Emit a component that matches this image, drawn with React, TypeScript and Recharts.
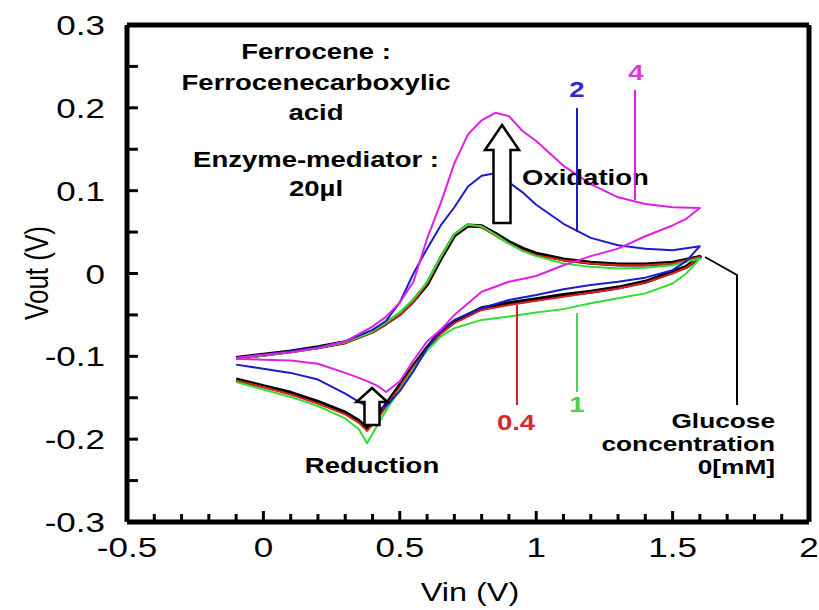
import React from 'react';
import { LineChart, Line, XAxis, YAxis, ReferenceLine } from 'recharts';

// scan potentials (forward sweep up, reverse sweep back down)
const vinForward = [-0.1, 0, 0.1, 0.2, 0.3, 0.4, 0.45, 0.5, 0.55, 0.6, 0.65, 0.7, 0.75, 0.8, 0.85, 0.9, 0.95, 1.0, 1.1, 1.2, 1.3, 1.4, 1.5, 1.6];
const vinReverse = [1.6, 1.55, 1.5, 1.4, 1.3, 1.2, 1.1, 1.0, 0.9, 0.8, 0.7, 0.65, 0.6, 0.55, 0.5, 0.45, 0.42, 0.38, 0.35, 0.3, 0.2, 0.1, 0, -0.1];

// glucose 0 mM
const vout0Fwd = [-0.102, -0.098, -0.094, -0.089, -0.083, -0.07, -0.06, -0.049, -0.033, -0.013, 0.018, 0.046, 0.058, 0.057, 0.048, 0.038, 0.03, 0.024, 0.017, 0.013, 0.011, 0.011, 0.013, 0.02];
const vout0Rev = [0.02, 0.008, 0.002, -0.01, -0.017, -0.022, -0.026, -0.031, -0.036, -0.042, -0.058, -0.07, -0.09, -0.112, -0.135, -0.158, -0.172, -0.187, -0.178, -0.168, -0.155, -0.144, -0.136, -0.128];
// 0.4 mM
const vout04Fwd = [-0.103, -0.099, -0.095, -0.09, -0.084, -0.071, -0.061, -0.05, -0.034, -0.012, 0.02, 0.047, 0.059, 0.056, 0.046, 0.036, 0.028, 0.022, 0.016, 0.012, 0.01, 0.01, 0.012, 0.02];
const vout04Rev = [0.02, 0.007, 0.0, -0.011, -0.018, -0.023, -0.028, -0.033, -0.038, -0.044, -0.06, -0.073, -0.092, -0.113, -0.137, -0.16, -0.175, -0.19, -0.18, -0.17, -0.157, -0.146, -0.137, -0.129];
// 1 mM
const vout1Fwd = [-0.103, -0.099, -0.095, -0.09, -0.083, -0.07, -0.059, -0.047, -0.031, -0.01, 0.02, 0.048, 0.059, 0.057, 0.047, 0.036, 0.027, 0.021, 0.012, 0.008, 0.006, 0.007, 0.01, 0.018];
const vout1Rev = [0.018, 0.0, -0.012, -0.024, -0.03, -0.036, -0.043, -0.047, -0.052, -0.056, -0.066, -0.076, -0.093, -0.115, -0.14, -0.165, -0.182, -0.205, -0.188, -0.175, -0.16, -0.149, -0.14, -0.131];
// 2 mM
const vout2Fwd = [-0.102, -0.098, -0.094, -0.089, -0.082, -0.068, -0.057, -0.035, 0.0, 0.03, 0.058, 0.08, 0.105, 0.118, 0.121, 0.11, 0.098, 0.083, 0.06, 0.043, 0.034, 0.03, 0.028, 0.033];
const vout2Rev = [0.033, 0.015, 0.004, -0.005, -0.01, -0.014, -0.019, -0.026, -0.032, -0.042, -0.056, -0.07, -0.09, -0.118, -0.142, -0.16, -0.164, -0.16, -0.155, -0.145, -0.128, -0.12, -0.115, -0.11];
// 4 mM
const vout4Fwd = [-0.102, -0.098, -0.095, -0.09, -0.082, -0.064, -0.052, -0.035, -0.01, 0.042, 0.085, 0.133, 0.168, 0.185, 0.194, 0.19, 0.172, 0.16, 0.13, 0.108, 0.092, 0.084, 0.08, 0.079];
const vout4Rev = [0.079, 0.066, 0.058, 0.045, 0.03, 0.021, 0.01, -0.003, -0.01, -0.022, -0.05, -0.068, -0.082, -0.105, -0.13, -0.143, -0.136, -0.13, -0.126, -0.12, -0.109, -0.105, -0.104, -0.103];

const xTicks = [-0.5, -0.4, -0.3, -0.2, -0.1, 0, 0.1, 0.2, 0.3, 0.4, 0.5, 0.6, 0.7, 0.8, 0.9, 1, 1.1, 1.2, 1.3, 1.4, 1.5, 1.6, 1.7, 1.8, 1.9, 2];
const xLabels = [-0.5, 0, 0.5, 1, 1.5, 2];
const yTicks = [-0.3, -0.25, -0.2, -0.15, -0.1, -0.05, 0, 0.05, 0.1, 0.15, 0.2, 0.25, 0.3];
const yLabels = [-0.3, -0.2, -0.1, 0, 0.1, 0.2, 0.3];

const loop = (fwd: number[], rev: number[]) => [
  ...vinForward.map((v, i) => ({ vin: v, vout: fwd[i] })),
  ...vinReverse.map((v, i) => ({ vin: v, vout: rev[i] })),
];

const series = [
  { name: '0', data: loop(vout0Fwd, vout0Rev), color: '#000000', width: 4 },
  { name: '0.4', data: loop(vout04Fwd, vout04Rev), color: '#d82020', width: 2 },
  { name: '1', data: loop(vout1Fwd, vout1Rev), color: '#33dd33', width: 2 },
  { name: '2', data: loop(vout2Fwd, vout2Rev), color: '#1c1ccc', width: 2 },
  { name: '4', data: loop(vout4Fwd, vout4Rev), color: '#e020e0', width: 2 },
];

const xDomain: [number, number] = [-0.5, 2];
const yDomain: [number, number] = [-0.3, 0.3];
// tick lengths in data units (8 / 11 px on this plot box)
const X_MINOR = 0.0097;
const X_MAJOR = 0.0133;
const Y_TICK = 0.04;

const FONT = '"Liberation Sans", Arial, sans-serif';
const SX = 1.25;

function Txt({ x, y, size, bold, fill = '#000', anchor = 'middle', children }: any) {
  return (
    <text
      transform={`translate(${x},${y}) scale(${SX},1)`}
      textAnchor={anchor}
      fontFamily={FONT}
      fontSize={size}
      fontWeight={bold ? 'bold' : 'normal'}
      fill={fill}
    >
      {children}
    </text>
  );
}

const near = (a: number, list: number[]) => list.some((b) => Math.abs(a - b) < 1e-6);

function XTick(props: any) {
  const { x, y, payload } = props;
  if (!near(payload.value, xLabels)) return <g />;
  return <Txt x={x} y={y + 35} size={28}>{String(payload.value)}</Txt>;
}

function YTick(props: any) {
  const { x, y, payload } = props;
  if (!near(payload.value, yLabels)) return <g />;
  return <Txt x={x - 22} y={y + 10} size={28} anchor="end">{String(payload.value)}</Txt>;
}

function HollowArrow({ cx, bottom, top, shaft, head, headLen }: any) {
  const hb = top + headLen;
  const pts = [
    [cx - shaft / 2, bottom], [cx - shaft / 2, hb], [cx - head / 2, hb], [cx, top],
    [cx + head / 2, hb], [cx + shaft / 2, hb], [cx + shaft / 2, bottom],
  ].map((p) => p.join(',')).join(' ');
  return <polygon points={pts} fill="#fff" stroke="#000" strokeWidth={2.5} />;
}

export default function App() {
  return (
    <div style={{ position: 'absolute', left: 0, top: 0, width: 819, height: 610, background: '#ffffff' }}>
      <LineChart width={819} height={610} margin={{ top: 25, right: 10, left: 0, bottom: 0 }}>
        <XAxis
          dataKey="vin"
          type="number"
          domain={xDomain}
          ticks={xTicks}
          interval={0}
          height={88}
          axisLine={false}
          tickLine={false}
          tickSize={0}
          tickMargin={0}
          tick={<XTick />}
        />
        <YAxis
          type="number"
          domain={yDomain}
          ticks={yTicks}
          interval={0}
          width={127}
          axisLine={false}
          tickLine={false}
          tickSize={0}
          tickMargin={0}
          tick={<YTick />}
        />
        {xTicks.map((v) => (
          <ReferenceLine
            key={'xt' + v}
            segment={[{ x: v, y: yDomain[0] }, { x: v, y: yDomain[0] + (near(v, xLabels) ? X_MAJOR : X_MINOR) }]}
            stroke="#000"
            strokeWidth={3}
          />
        ))}
        {yTicks.map((v) => (
          <ReferenceLine
            key={'yt' + v}
            segment={[{ x: xDomain[0], y: v }, { x: xDomain[0] + Y_TICK, y: v }]}
            stroke="#000"
            strokeWidth={3}
          />
        ))}
        <ReferenceLine x={xDomain[0]} stroke="#000" strokeWidth={5} />
        <ReferenceLine x={xDomain[1]} stroke="#000" strokeWidth={5} />
        <ReferenceLine y={yDomain[0]} stroke="#000" strokeWidth={5} />
        <ReferenceLine y={yDomain[1]} stroke="#000" strokeWidth={5} />
        {series.map((s) => (
          <Line
            key={s.name}
            data={s.data}
            dataKey="vout"
            type="linear"
            stroke={s.color}
            strokeWidth={s.width}
            strokeLinejoin="round"
            dot={false}
            isAnimationActive={false}
          />
        ))}
      </LineChart>
      <svg width={819} height={610} style={{ position: 'absolute', left: 0, top: 0, pointerEvents: 'none' }}>
        {/* axis titles */}
        <Txt x={470} y={601} size={26}>Vin (V)</Txt>
        <text transform={`translate(48,273) scale(${SX},1) rotate(-90)`} textAnchor="middle" fontFamily={FONT} fontSize={26}>
          Vout (V)
        </text>

        {/* condition notes */}
        <Txt x={316} y={59} size={22} bold>Ferrocene :</Txt>
        <Txt x={316} y={90} size={22} bold>Ferrocenecarboxylic</Txt>
        <Txt x={316} y={120} size={22} bold>acid</Txt>
        <Txt x={316} y={167} size={22} bold>Enzyme-mediator :</Txt>
        <Txt x={316} y={196} size={22} bold>20µl</Txt>

        <HollowArrow cx={502} bottom={223} top={125} shaft={17} head={34} headLen={25} />
        <Txt x={522} y={185} size={22} bold anchor="start">Oxidation</Txt>
        <HollowArrow cx={372} bottom={425} top={388} shaft={15} head={31} headLen={14} />
        <Txt x={372} y={473} size={22} bold>Reduction</Txt>

        {/* concentration pointers */}
        <line x1={577} x2={577} y1={108} y2={232} stroke="#1c1ccc" strokeWidth={2} />
        <Txt x={577} y={97} size={22} bold fill="#2a2acc">2</Txt>
        <line x1={635} x2={635} y1={90} y2={200} stroke="#e020e0" strokeWidth={2} />
        <Txt x={636} y={80} size={22} bold fill="#d83cd8">4</Txt>
        <line x1={517} x2={517} y1={305} y2={405} stroke="#cc2222" strokeWidth={2} />
        <Txt x={516} y={430} size={22} bold fill="#d42a2a">0.4</Txt>
        <line x1={577} x2={577} y1={313} y2={392} stroke="#44dd44" strokeWidth={2} />
        <Txt x={577} y={412} size={22} bold fill="#4ccf4c">1</Txt>
        <polyline points="705,257 737,275 737,405" fill="none" stroke="#000" strokeWidth={2} />
        <Txt x={775} y={428} size={21} bold anchor="end">Glucose</Txt>
        <Txt x={775} y={451} size={21} bold anchor="end">concentration</Txt>
        <Txt x={775} y={474} size={21} bold anchor="end">0[mM]</Txt>
      </svg>
    </div>
  );
}
